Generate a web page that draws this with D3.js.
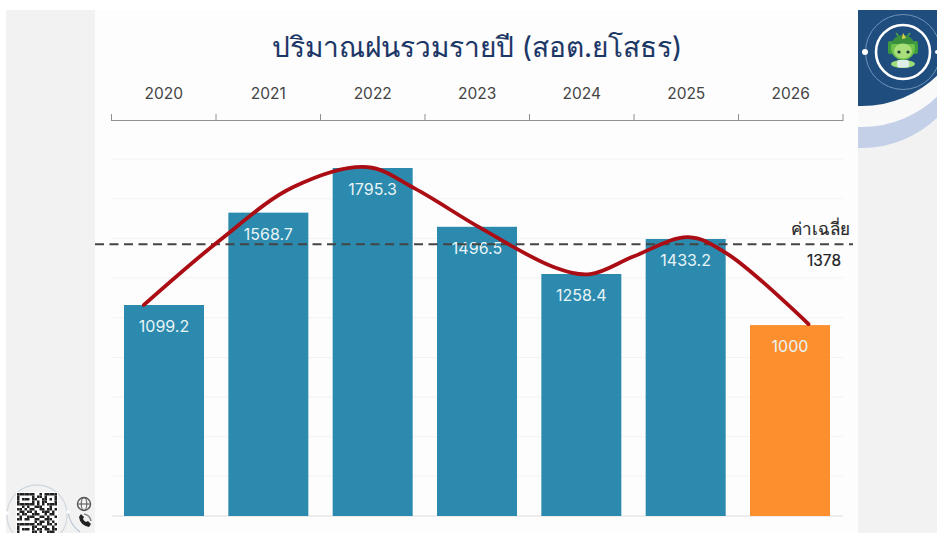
<!DOCTYPE html>
<html><head><meta charset="utf-8">
<script src="https://cdn.jsdelivr.net/npm/d3@7"></script>
<style>html,body{margin:0;padding:0;background:#fff}svg{display:block}text{font-family:Inter,"Noto Sans","Open Sans",sans-serif}</style>
</head><body><div id="c"></div>
<script>
const titleText = "ปริมาณฝนรวมรายปี (สอต.ยโสธร)";
const years = ["2020","2021","2022","2023","2024","2025","2026"];
const rainLabels = ["1099.2","1568.7","1795.3","1496.5","1258.4","1433.2","1000"];
const barLevels = [1088.5, 1565, 1795.3, 1492, 1248.5, 1429, 985];
const barColors = ["#2b8aad","#2b8aad","#2b8aad","#2b8aad","#2b8aad","#2b8aad","#fd8f2f"];
const trendPos = [-0.19,0.54,1.24,1.95,2.40,3.03,3.73,4.08,4.50,5.02,5.40,6.17];
const trendLevels = [1089,1424,1697,1800,1690,1486,1285,1248,1340,1439,1350,990];
const gridLevels = [0,205,409,614,818,1023,1228,1432,1637,1841];
const avgLabel = "ค่าเฉลี่ย";
const avgValue = "1378";
const avgLevel = 1401.7;
const qrRows = ["1111111001011111","1000001011010001","1011101100110101","1000001010110001","1111111010101111","0010100111000100","1101011001101101","0110110100111010","1011001110010110","0100111001101001","1101100110011100","0000000101101010","1111111011001101","1000001100110010","1011101011011011","1000001101001110"];

const W = 937, H = 533;
const svg = d3.select("#c").append("svg").attr("width",W).attr("height",H);
svg.append("rect").attr("width",W).attr("height",H).attr("fill","#fff");
svg.append("rect").attr("x",6).attr("y",10).attr("width",W-6).attr("height",H-10).attr("fill","#f2f2f2");
svg.append("rect").attr("x",95).attr("y",10).attr("width",763).attr("height",H-10).attr("fill","#fdfdfd");

const x = d3.scaleBand().domain(years).range([112,842]).paddingInner(0.2332).paddingOuter(0.115);
const slot = d3.scaleBand().domain(years).range([111.5,843]);
const y = d3.scaleLinear().domain([0,1795.3]).range([516,168]);

// grid
svg.append("g").selectAll("line").data(gridLevels).join("line")
  .attr("x1",112).attr("x2",843).attr("y1",d=>y(d)).attr("y2",d=>y(d))
  .attr("stroke",(d,i)=>i===0?"#dcdcdc":"#f3f3f3").attr("stroke-width",1);

// top axis
const ax = svg.append("g").attr("stroke","#909090").attr("fill","none");
ax.append("line").attr("x1",111.5).attr("x2",843).attr("y1",120.5).attr("y2",120.5);
ax.selectAll("line.t").data(years.concat(["end"])).join("line").attr("class","t")
  .attr("x1",(d,i)=>111.5+i*slot.step()).attr("x2",(d,i)=>111.5+i*slot.step())
  .attr("y1",114).attr("y2",121);
svg.append("g").selectAll("text").data(years).join("text")
  .attr("x",d=>slot(d)+slot.bandwidth()/2).attr("y",98.5).attr("text-anchor","middle")
  .attr("font-size",15.5).attr("fill","#444").text(d=>d);

// bars
svg.append("g").selectAll("rect").data(years).join("rect")
  .attr("x",d=>x(d)).attr("width",x.bandwidth())
  .attr("y",(d,i)=>y(barLevels[i])).attr("height",(d,i)=>y(0)-y(barLevels[i]))
  .attr("fill",(d,i)=>barColors[i]);

// value labels
svg.append("g").selectAll("text").data(years).join("text")
  .attr("x",d=>x(d)+x.bandwidth()/2).attr("y",(d,i)=>y(barLevels[i])+27)
  .attr("text-anchor","middle").attr("font-size",16).attr("fill","#e9f4f7")
  .text((d,i)=>rainLabels[i]);

// average line
svg.append("line").attr("x1",95).attr("x2",853).attr("y1",y(avgLevel)).attr("y2",y(avgLevel))
  .attr("stroke","#444").attr("stroke-width",1.9).attr("stroke-dasharray","9 5.5");
svg.append("text").attr("x",850).attr("y",235).attr("text-anchor","end").attr("font-size",17).attr("fill","#2a2a2a").attr("stroke","#2a2a2a").attr("stroke-width",0.2).text(avgLabel);
svg.append("text").attr("x",841).attr("y",266).attr("text-anchor","end").attr("font-size",15.5).attr("fill","#222").attr("stroke","#222").attr("stroke-width",0.2).text(avgValue);

// trend
const cx = i => slot(years[0]) + slot.bandwidth()/2 + trendPos[i]*slot.step();
const line = d3.line().x((d,i)=>cx(i)).y(d=>y(d)).curve(d3.curveCatmullRom.alpha(0.5));
svg.append("path").datum(trendLevels).attr("d",line).attr("fill","none")
  .attr("stroke","#ab0d14").attr("stroke-width",3.8).attr("stroke-linecap","round");

// title
svg.append("text").attr("x",477).attr("y",57).attr("text-anchor","middle")
  .attr("font-size",28).attr("fill","#1c3766").attr("stroke","#1c3766").attr("stroke-width",0.12).text(titleText);

// badge, top right
const defs = svg.append("defs");
defs.append("clipPath").attr("id","tr").append("rect").attr("x",858).attr("y",10).attr("width",79).attr("height",160);
const b = svg.append("g").attr("clip-path","url(#tr)");
b.append("circle").attr("cx",862).attr("cy",40).attr("r",108).attr("fill","#c3d0e8");
b.append("circle").attr("cx",862).attr("cy",19).attr("r",108).attr("fill","#f9f9f9");
b.append("circle").attr("cx",862).attr("cy",-2).attr("r",108).attr("fill","#1f4e7e");
b.append("circle").attr("cx",903).attr("cy",52).attr("r",37.5).attr("fill","none").attr("stroke","#6f93b8").attr("stroke-width",1);
b.append("circle").attr("cx",903).attr("cy",52).attr("r",27).attr("fill","none").attr("stroke","#fff").attr("stroke-width",2.6);
b.append("circle").attr("cx",865).attr("cy",52).attr("r",3).attr("fill","#fff");
b.append("circle").attr("cx",937).attr("cy",52).attr("r",2).attr("fill","#fff");
[[896,33],[910,33]].forEach(p=>b.append("line").attr("x1",p[0]).attr("y1",p[1]).attr("x2",903).attr("y2",42).attr("stroke","#4aa64a").attr("stroke-width",1.5));
b.append("rect").attr("x",888).attr("y",41).attr("width",5).attr("height",13).attr("rx",2).attr("fill","#3f9c3f");
b.append("rect").attr("x",913).attr("y",41).attr("width",5).attr("height",13).attr("rx",2).attr("fill","#3f9c3f");
b.append("ellipse").attr("cx",903).attr("cy",48).attr("rx",12).attr("ry",12).attr("fill","#6fc24a");
b.append("path").attr("d","M892 44 a11 9 0 0 1 22 0 z").attr("fill","#3a8f3c");
b.append("ellipse").attr("cx",903).attr("cy",51).attr("rx",9).attr("ry",7.5).attr("fill","#a9df7a");
b.append("path").attr("d","M903 33 l3 5 l-4 1 z").attr("fill","#e6d24a");
b.append("circle").attr("cx",899).attr("cy",52).attr("r",1.6).attr("fill","#1d3a33");
b.append("circle").attr("cx",908).attr("cy",52).attr("r",1.6).attr("fill","#1d3a33");
b.append("ellipse").attr("cx",903).attr("cy",64).attr("rx",12).attr("ry",4).attr("fill","#9ddc78");
b.append("rect").attr("x",897).attr("y",60).attr("width",12).attr("height",7.5).attr("rx",2.5).attr("fill","#dfeee8");

// QR, bottom left
const q = svg.append("g");
q.append("circle").attr("cx",37).attr("cy",515).attr("r",30).attr("fill","none").attr("stroke","#d3dae0").attr("stroke-width",1.3);
q.append("path").attr("d","M68 512 Q70 525 80 532").attr("fill","none").attr("stroke","#b9c6d2").attr("stroke-width",1.2);
q.append("rect").attr("x",16).attr("y",492).attr("width",42).attr("height",41).attr("fill","#fff");
q.append("circle").attr("cx",7).attr("cy",513).attr("r",1.8).attr("fill","#fff");
q.append("circle").attr("cx",68).attr("cy",512).attr("r",1.8).attr("fill","#fff");
const cell = 2.5;
qrRows.forEach((r,j)=>r.split("").forEach((c,i)=>{ if(c==="1")
  q.append("rect").attr("x",17+i*cell).attr("y",493+j*cell).attr("width",cell).attr("height",cell).attr("fill","#222");}));
q.append("circle").attr("cx",84).attr("cy",504).attr("r",6.5).attr("fill","none").attr("stroke","#555").attr("stroke-width",1.4);
q.append("ellipse").attr("cx",84).attr("cy",504).attr("rx",2.8).attr("ry",6.5).attr("fill","none").attr("stroke","#555").attr("stroke-width",1);
q.append("line").attr("x1",77.5).attr("x2",90.5).attr("y1",504).attr("y2",504).attr("stroke","#555");
q.append("path").attr("d","M79 517 q1 8 10 10 l2 -3 l-3 -3 l-2 1 q-2 -1 -3 -3 l1 -2 l-3 -3 z").attr("fill","#222");
q.append("path").attr("d","M84 514 q6 1 7 7").attr("fill","none").attr("stroke","#888").attr("stroke-width",1.5);
</script></body></html>
